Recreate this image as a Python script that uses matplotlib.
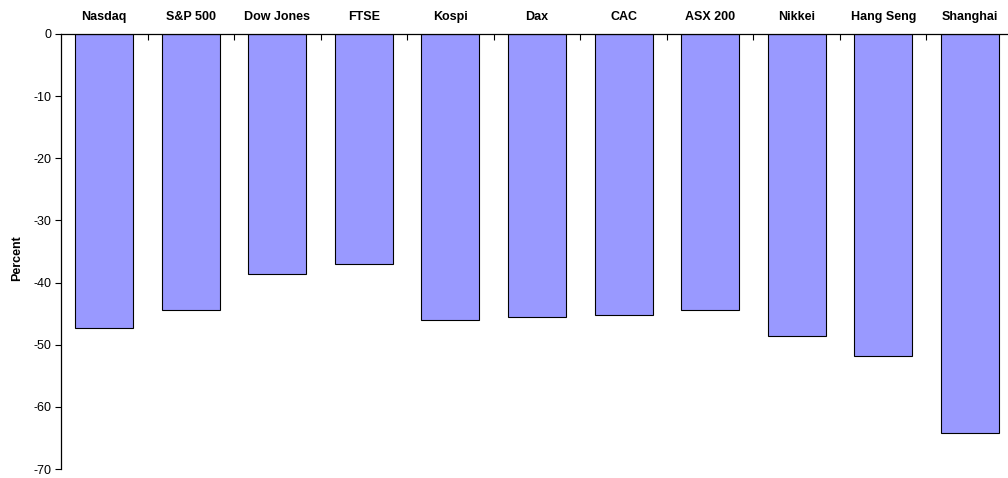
import matplotlib
matplotlib.use("Agg")
import matplotlib.pyplot as plt

plt.rcParams['font.family'] = ['Liberation Sans', 'DejaVu Sans']

categories = ["Nasdaq", "S&P 500", "Dow Jones", "FTSE", "Kospi", "Dax", "CAC",
              "ASX 200", "Nikkei", "Hang Seng", "Shanghai"]
values = [-47.3, -44.4, -38.6, -37.0, -46.0, -45.5, -45.2, -44.4, -48.6, -51.8, -64.2]
yticks = [0, -10, -20, -30, -40, -50, -60, -70]

fig = plt.figure(figsize=(10.08, 4.78), dpi=100)
ax = fig.add_axes([0.0605, 0.0188, 0.9445, 0.9101])

x = list(range(len(categories)))
ax.bar(x, values, width=0.67, color="#9999FF", edgecolor="black", linewidth=0.8)

ax.set_xlim(-0.5, len(categories) - 0.5)
ax.set_ylim(-70, 0)
ax.set_yticks(yticks)
ax.set_yticklabels([str(v) for v in yticks], fontsize=9)
ax.tick_params(axis='y', direction='out', length=4, width=0.8, pad=3)

ax.xaxis.tick_top()
ax.set_xticks([i + 0.5 for i in x[:-1]])
ax.set_xticklabels([])
ax.set_xticks(x, minor=True)
ax.set_xticklabels(categories, minor=True, fontsize=9, fontweight='bold')
ax.tick_params(axis='x', which='major', direction='in', length=4, width=0.8)
ax.tick_params(axis='x', which='minor', length=0, pad=8)

ax.spines['right'].set_visible(False)
ax.spines['bottom'].set_visible(False)
ax.spines['left'].set_linewidth(0.9)
ax.spines['top'].set_linewidth(0.9)

ax.set_ylabel("Percent", fontsize=9, fontweight='bold')
ax.yaxis.set_label_coords(-0.040, 0.485)

fig.savefig("out.png", dpi=100)
